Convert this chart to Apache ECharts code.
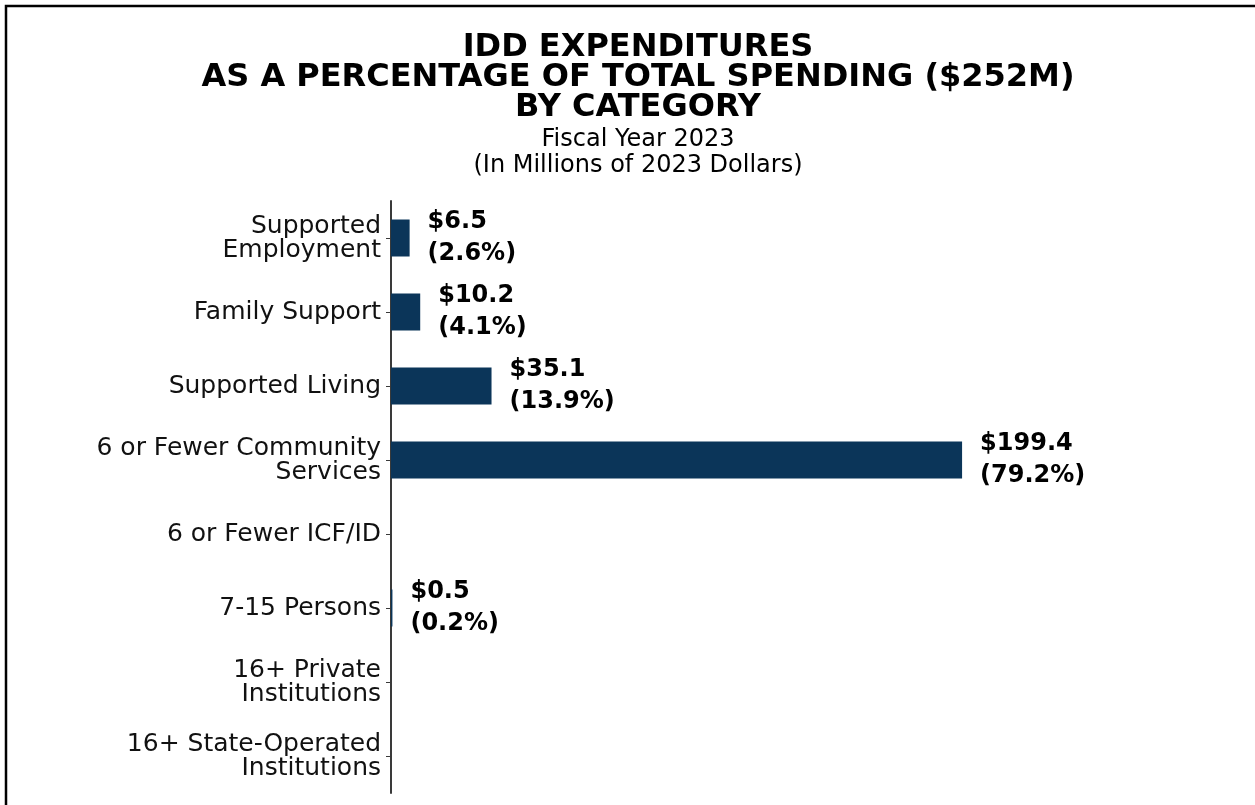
<!DOCTYPE html>
<html>
<head>
<meta charset="utf-8">
<script src="https://cdn.jsdelivr.net/npm/echarts@6/dist/echarts.min.js"></script>
<style>
  html, body { margin: 0; padding: 0; background: #fff; }
  #chart { width: 1255px; height: 805px; }
</style>
</head>
<body>
<div id="chart"></div>
<script>
// 类别（从上到下）
const categories = [
  'Supported\nEmployment',
  'Family Support',
  'Supported Living',
  '6 or Fewer Community\nServices',
  '6 or Fewer ICF/ID',
  '7-15 Persons',
  '16+ Private\nInstitutions',
  '16+ State-Operated\nInstitutions'
]
// 支出（百万美元）
const spending = [6.5, 10.2, 35.1, 199.4, 0, 0.5, 0, 0]
// 占比（%）
const percents = [2.6, 4.1, 13.9, 79.2, 0, 0.2, 0, 0]

const chart = echarts.init(document.getElementById('chart'))

const option = {
  backgroundColor: '#fff',
  animation: false,
  title: [
    {
      text: 'IDD EXPENDITURES\nAS A PERCENTAGE OF TOTAL SPENDING ($252M)\nBY CATEGORY',
      left: 633,
      top: 28,
      textAlign: 'center',
      textStyle: {
        fontFamily: 'DejaVu Sans',
        fontWeight: 'bold',
        fontSize: 32,
        lineHeight: 30,
        color: '#000'
      }
    },
    {
      text: 'Fiscal Year 2023\n(In Millions of 2023 Dollars)',
      left: 633,
      top: 122,
      textAlign: 'center',
      textStyle: {
        fontFamily: 'DejaVu Sans',
        fontWeight: 'normal',
        fontSize: 24,
        lineHeight: 26,
        color: '#000'
      }
    }
  ],
  grid: {
    left: 391,
    top: 201,
    width: 716,
    height: 592
  },
  xAxis: {
    type: 'value',
    min: 0,
    max: 250,
    show: false
  },
  yAxis: {
    type: 'category',
    inverse: true,
    data: categories,
    axisLine: { lineStyle: { color: '#3a3a3a', width: 2 } },
    axisTick: { show: true, alignWithLabel: true, length: 5, lineStyle: { color: '#3a3a3a', width: 1 } },
    axisLabel: {
      fontFamily: 'DejaVu Sans',
      fontSize: 25,
      lineHeight: 24,
      color: '#111',
      margin: 10
    }
  },
  series: [
    {
      type: 'bar',
      data: spending,
      barWidth: '50%',
      itemStyle: { color: '#0b3559' },
      label: {
        show: true,
        position: 'right',
        distance: 18,
        fontFamily: 'DejaVu Sans',
        fontWeight: 'bold',
        fontSize: 24,
        lineHeight: 32,
        color: '#000',
        // 零值不显示标签
        formatter: (p) => p.value ? '$' + p.value.toFixed(1) + '\n(' + percents[p.dataIndex].toFixed(1) + '%)' : ''
      }
    }
  ],
  graphic: [
    {
      type: 'rect',
      shape: { x: 6, y: 6, width: 1270, height: 830 },
      style: { fill: 'none', stroke: '#000', lineWidth: 2.5 },
      silent: true
    }
  ]
}
chart.setOption(option)
</script>
</body>
</html>
